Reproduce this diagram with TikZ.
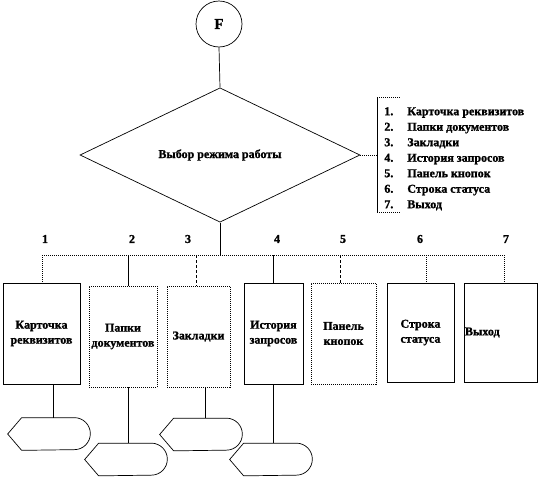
\documentclass[tikz,border=0pt]{standalone}
\usepackage{fontspec}
\setmainfont{Liberation Serif}[BoldFeatures={FakeBold=1.2}]
\usetikzlibrary{shapes.geometric}
\newcommand{\dispshape}[1]{\draw[displine] ([xshift=14pt]#1.north west) -- ([xshift=-16pt]#1.north east) arc[start angle=90,end angle=-90,radius=16pt] -- ([xshift=14pt]#1.south west) -- (#1.west) -- cycle;}
\begin{document}
\begin{tikzpicture}[x=1pt,y=1pt,line width=0.7pt,
  every node/.style={font=\fontsize{12}{15}\selectfont\bfseries},
  box/.style={draw,rectangle,inner sep=0pt,minimum height=101pt,align=center},
  fine/.style={dash pattern=on 1pt off 1pt},
  disp/.style={rectangle,inner sep=0pt,minimum width=82pt,minimum height=32pt},
  displine/.style={draw,line width=0.7pt},
  num/.style={inner sep=0pt},
  bus/.style={dash pattern=on 1pt off 1pt,line width=0.9pt}]
\useasboundingbox (0,0) rectangle (555,-477);
% start circle
\node[draw,circle,minimum size=46pt,inner sep=0pt,font=\fontsize{15}{15}\selectfont\bfseries] (F) at (219,-24) {F};
% decision
\node[draw,diamond,minimum width=280pt,minimum height=128pt,inner sep=0pt] (D) at (220,-155) {Выбор режима работы};
\draw (F.south) -- (D.north);
% bus
\coordinate (bc) at (220,-255);
\coordinate (t1) at (42,-255);
\coordinate (t2) at (128,-255);
\coordinate (t3) at (196,-255);
\coordinate (t4) at (273,-255);
\coordinate (t5) at (340,-255);
\coordinate (t6) at (426,-255);
\coordinate (t7) at (504,-255);
\draw (D.south) -- (bc);
\draw[bus] (t1) -- (t7);
% numbers
\node[num] (n1) at (45,-239) {1};
\node[num] (n2) at (132,-239) {2};
\node[num] (n3) at (188,-239) {3};
\node[num] (n4) at (277,-239) {4};
\node[num] (n5) at (343,-239) {5};
\node[num] (n6) at (420,-239) {6};
\node[num] (n7) at (506,-239) {7};
% boxes
\node[box,minimum width=77pt] (b1) at (41.5,-333.5) {Карточка\\реквизитов};
\node[box,minimum width=68pt,fine] (b2) at (123,-336.5) {Папки\\документов};
\node[box,minimum width=63pt,fine] (b3) at (198.5,-336.5) {Закладки};
\node[box,minimum width=59pt] (b4) at (273.5,-333.5) {История\\запросов};
\node[box,minimum width=65pt,fine] (b5) at (343.5,-333.5) {Панель\\кнопок};
\node[box,minimum width=67pt,minimum height=99pt] (b6) at (420.5,-332.5) {Строка\\статуса};
\node[box,text width=71pt,inner xsep=1pt,minimum height=99pt,align=left] (b7) at (500.5,-332.5) {Выход};
% branches
\draw[fine] (t1) -- (t1 |- b1.north);
\draw (t2) -- (t2 |- b2.north);
\draw[densely dashed] (t3) -- (t3 |- b3.north);
\draw (t4) -- (t4 |- b4.north);
\draw[densely dashed] (t5) -- (t5 |- b5.north);
\draw[fine] (t6) -- (t6 |- b6.north);
\draw[fine] (t7) -- (t7 |- b7.north);
% displays
\node[disp] (d1) at (49,-434) {};
\node[disp] (d2) at (126,-459.5) {};
\node[disp] (d3) at (201,-434.5) {};
\node[disp] (d4) at (271,-459.5) {};
\dispshape{d1}
\dispshape{d2}
\dispshape{d3}
\dispshape{d4}
\coordinate (l1) at (53,-400);
\coordinate (l2) at (128,-400);
\coordinate (l3) at (205,-400);
\coordinate (l4) at (273,-400);
\draw (l1 |- b1.south) -- (l1 |- d1.north);
\draw (l2 |- b2.south) -- (l2 |- d2.north);
\draw (l3 |- b3.south) -- (l3 |- d3.north);
\draw (l4 |- b4.south) -- (l4 |- d4.north);
% menu list
\coordinate (bt) at (377,-97);
\coordinate (bb) at (377,-212);
\coordinate (btr) at (400,-97);
\coordinate (bbr) at (400,-212);
\coordinate (bm) at (377,-155);
\draw (bt) -- (bb);
\draw[fine] (bt) -- (btr);
\draw[fine] (bb) -- (bbr);
\draw[fine] (D.east) -- (bm);
\node[anchor=north west,inner sep=0pt,font=\fontsize{12}{15.5}\selectfont\bfseries] (menu) at (384,-104) {%
\begin{tabular}{@{}l@{\hspace{14pt}}l@{}}
1. & Карточка реквизитов\\
2. & Папки документов\\
3. & Закладки\\
4. & История запросов\\
5. & Панель кнопок\\
6. & Строка статуса\\
7. & Выход
\end{tabular}};
\end{tikzpicture}
\end{document}
